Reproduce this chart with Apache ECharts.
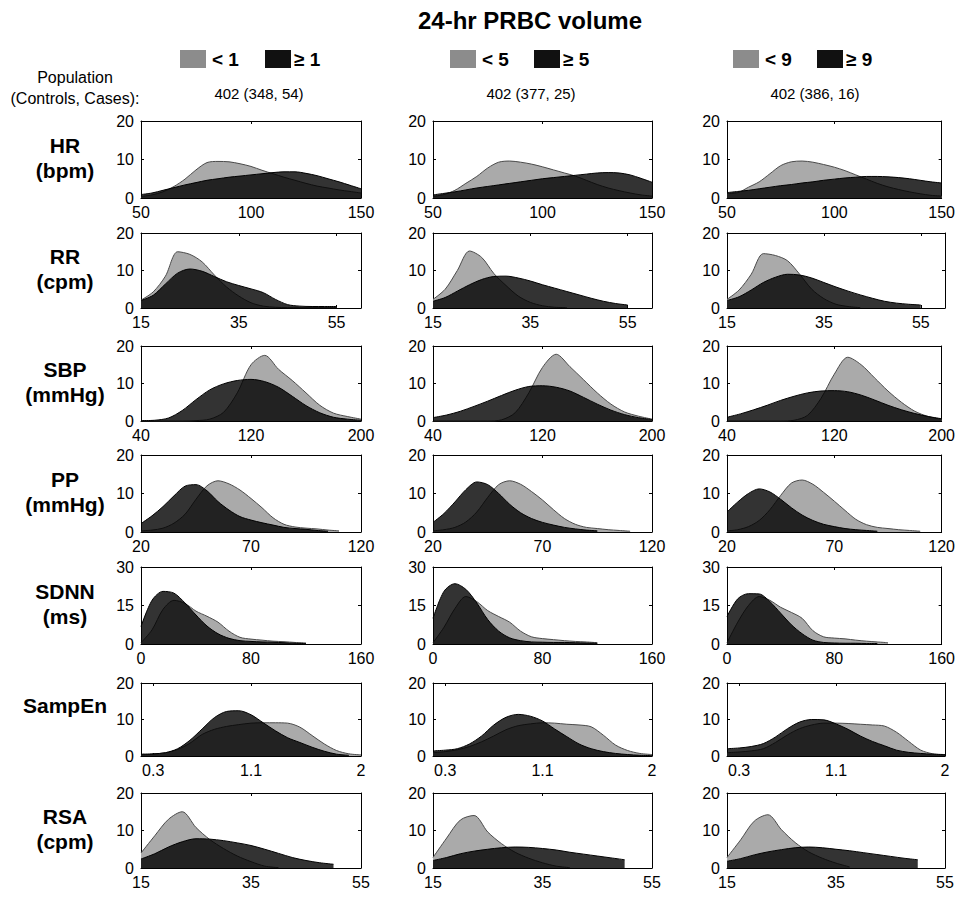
<!DOCTYPE html>
<html><head><meta charset="utf-8">
<script src="https://cdn.jsdelivr.net/npm/echarts@6/dist/echarts.min.js"></script>
<style>html,body{margin:0;padding:0;background:#fff}#c{width:958px;height:898px}</style>
</head><body><div id="c"></div>
<script>
// ---------- labels ----------
const chartTitle = '24-hr PRBC volume';
const thresholds = ['1', '5', '9'];
const populations = ['402 (348, 54)', '402 (377, 25)', '402 (386, 16)'];
const rowNames = [['HR', '(bpm)'], ['RR', '(cpm)'], ['SBP', '(mmHg)'], ['PP', '(mmHg)'], ['SDNN', '(ms)'], ['SampEn'], ['RSA', '(cpm)']];
const xMins = [50, 15, 40, 20, 0, 0.2, 15];
const xMaxs = [150, 60, 200, 120, 160, 2, 55];
const xTickLabels = [[50, 100, 150], [15, 35, 55], [40, 120, 200], [20, 70, 120], [0, 80, 160], [0.3, 1.1, 2], [15, 35, 55]];
const yMaxs = [20, 20, 20, 20, 30, 20, 20];
const yTickLabels = [[0, 10, 20], [0, 10, 20], [0, 10, 20], [0, 10, 20], [0, 15, 30], [0, 10, 20], [0, 10, 20]];

// ---------- data (density, %) ----------
const hrX = [50,55,60,65,70,75,80,85,90,95,100,105,110,115,120,125,130,135,140,145,150];
const hrLow1  = [0.4,0.8,1.6,3.0,4.9,7.3,9.2,9.5,9.4,8.9,8.2,7.2,6.3,5.4,4.6,3.8,3.1,2.6,2.1,1.7,1.3];
const hrHigh1 = [0.9,1.3,2.0,2.7,3.4,4.0,4.6,5.0,5.4,5.7,6.0,6.3,6.6,6.8,6.8,6.4,5.8,5.0,4.2,3.3,2.4];
const hrLow2  = [0.4,0.9,2.0,3.8,5.6,7.8,9.3,9.6,9.3,8.8,8.1,7.3,6.5,5.7,4.6,3.5,2.6,1.9,1.3,0.8,0.5];
const hrHigh2 = [0.8,1.2,1.6,2.1,2.6,3.0,3.4,3.8,4.2,4.6,5.0,5.3,5.6,5.9,6.2,6.5,6.6,6.5,6.0,5.1,4.1];
const hrLow3  = [1.2,1.4,2.8,4.2,6.3,8.4,9.4,9.6,9.3,8.7,8.0,7.1,6.0,4.9,3.8,2.9,2.2,1.6,1.1,0.7,0.5];
const hrHigh3 = [1.4,1.7,2.0,2.4,2.8,3.2,3.5,3.9,4.2,4.6,4.9,5.2,5.4,5.6,5.6,5.5,5.3,5.0,4.6,4.2,3.9];

const rrX = [15,17.5,20,22.5,25,27.5,30,32.5,35,37.5,40,42.5,45,47.5,50,52.5,55,57.5,60];
const rrLow1  = [2.1,4.3,8.5,15.0,14.3,12.3,8.8,5.6,3.2,1.4,0.5,0.2,0.1,0.1,0.1,0.1,0.1,null,null];
const rrHigh1 = [2.0,3.4,6.4,9.3,10.4,9.8,8.4,7.0,6.0,5.1,4.1,2.3,0.9,0.5,0.4,0.4,0.4,null,null];
const rrLow2  = [2.3,5.0,10.0,15.2,13.5,9.2,6.0,3.2,1.5,0.6,0.2,0.1,null,null,null,null,null,null,null];
const rrHigh2 = [1.8,2.8,4.5,6.2,7.6,8.4,8.5,8.0,7.2,6.2,5.3,4.4,3.5,2.6,1.8,1.2,0.8,null,null];
const rrLow3  = [2.3,4.8,9.0,14.5,14.0,12.6,9.0,5.0,2.5,1.0,0.4,0.1,null,null,null,null,null,null,null];
const rrHigh3 = [2.0,3.0,4.8,6.8,8.2,9.0,8.8,8.0,6.8,5.6,4.5,3.5,2.6,1.8,1.3,1.0,0.8,null,null];

const sbpX = [40,50,60,70,80,90,100,110,120,130,140,150,160,170,180,190,200];
const sbpLow1  = [0,0,0,0,0.1,0.5,2.3,7.5,15.0,17.5,13.8,10.8,7.5,4.2,2.1,1.2,0.5];
const sbpHigh1 = [0.1,0.2,0.8,2.8,5.7,8.3,9.9,10.8,11.1,10.5,9.0,6.6,4.1,2.2,1.0,0.5,0.2];
const sbpLow2  = [0,0,0,0,0,0.3,2.2,7.5,14.3,17.8,14.5,11.0,7.5,4.5,2.4,1.3,0.5];
const sbpHigh2 = [0.9,1.6,2.6,3.9,5.3,6.8,8.2,9.2,9.4,9.0,8.0,6.3,4.5,2.9,1.7,0.9,0.4];
const sbpLow3  = [0,0,0,0,0,0.2,1.5,6.0,12.5,17.0,15.0,11.5,8.0,5.0,2.6,1.2,0.5];
const sbpHigh3 = [1.0,1.9,3.0,4.2,5.5,6.6,7.5,8.0,8.1,7.8,6.9,5.6,4.2,3.0,2.0,1.2,0.6];

const ppX = [20,25,30,35,40,45,50,55,60,65,70,75,80,85,90,95,100,105,110,115,120];
const ppLow1  = [0.3,0.5,1.0,2.3,4.6,8.5,12.0,13.3,12.5,10.9,8.7,6.3,3.7,2.0,1.3,1.0,0.8,0.5,0.3,null,null];
const ppHigh1 = [2.2,4.2,6.6,9.4,11.9,12.3,10.7,7.9,5.7,4.0,3.1,2.4,1.8,1.2,0.9,0.7,0.4,0.2,null,null,null];
const ppLow2  = [0.3,0.6,1.2,2.6,5.2,9.0,12.3,13.3,12.4,10.5,8.3,5.8,3.5,2.0,1.2,0.9,0.6,0.4,0.2,null,null];
const ppHigh2 = [2.5,4.8,7.8,11.0,13.0,12.3,10.0,7.2,5.0,3.5,2.5,1.8,1.2,0.8,0.5,0.3,null,null,null,null,null];
const ppLow3  = [0.3,0.6,1.4,3.0,5.8,9.5,12.7,13.5,12.4,10.3,8.0,5.6,3.3,1.9,1.2,0.9,0.6,0.4,0.2,null,null];
const ppHigh3 = [5.2,7.8,10.0,11.2,10.4,8.5,6.3,4.4,3.0,2.0,1.4,0.9,0.6,0.4,0.2,null,null,null,null,null,null];

const sdnnX = [0,8,16,24,32,40,48,56,64,72,80,88,96,104,112,120,128,136,144,152,160];
const sdnnLow1  = [0.5,5.5,13.5,17.0,15.8,12.8,10.8,8.5,5.0,2.6,1.9,1.5,1.1,0.9,0.6,0.4,null,null,null,null,null];
const sdnnHigh1 = [6.8,17.0,20.5,19.8,16.0,11.3,7.0,4.0,2.2,1.3,1.0,0.8,0.7,0.5,0.3,0.2,null,null,null,null,null];
const sdnnLow2  = [0.5,6.5,13.8,18.5,16.5,13.0,10.7,8.5,5.0,2.8,2.1,1.7,1.3,1.0,0.8,0.5,null,null,null,null,null];
const sdnnHigh2 = [10.0,20.5,23.5,21.3,16.0,9.5,5.0,2.4,1.3,0.8,0.7,0.6,0.6,0.5,0.4,0.3,null,null,null,null,null];
const sdnnLow3  = [0.5,8.5,15.0,18.5,17.0,14.3,12.3,10.0,5.2,2.8,2.3,2.0,1.5,1.1,0.8,0.5,null,null,null,null,null];
const sdnnHigh3 = [10.7,17.6,19.6,19.5,16.5,12.0,7.5,4.0,1.5,0.6,0.4,0.3,0.3,0.2,0.2,null,null,null,null,null,null];

const seX = [0.2,0.3,0.4,0.5,0.6,0.7,0.8,0.9,1.0,1.1,1.2,1.3,1.4,1.5,1.6,1.7,1.8,1.9,2.0];
const seLow1  = [0.3,0.5,0.9,1.8,3.5,5.9,7.3,8.1,8.6,9.0,9.1,9.1,9.0,7.9,5.6,3.3,1.5,0.6,0.3];
const seHigh1 = [0.5,0.6,0.9,2.0,4.3,7.4,10.5,12.2,12.4,11.3,9.1,6.9,5.0,3.7,2.4,1.3,0.5,0.2,null];
const seLow2  = [0.9,1.2,1.7,2.6,3.9,5.5,7.2,8.3,8.8,9.1,9.0,8.7,8.5,8.0,5.7,3.0,1.5,0.7,0.4];
const seHigh2 = [1.4,1.6,2.0,3.3,5.5,8.5,10.6,11.4,10.9,9.6,7.4,5.3,3.3,2.0,1.2,0.7,0.4,0.2,0.1];
const seLow3  = [0.9,1.1,1.4,2.0,3.7,5.8,7.5,8.5,9.0,9.0,8.9,8.7,8.5,8.2,6.5,4.0,1.6,0.6,0.3];
const seHigh3 = [2.0,2.2,2.6,3.4,5.2,7.5,9.3,10.0,9.9,8.8,7.3,5.5,4.0,2.8,1.6,1.0,0.7,0.5,0.4];

const rsaX = [15,17.5,20,22.5,25,27.5,30,32.5,35,37.5,40,42.5,45,47.5,50,52.5,55];
const rsaLow1  = [4.0,8.6,13.0,15.0,10.8,7.6,5.2,3.2,1.7,0.5,0.1,null,null,null,null,null,null];
const rsaHigh1 = [2.4,3.8,5.6,7.0,7.8,7.7,7.3,6.7,6.0,5.0,3.9,2.8,2.0,1.4,1.0,null,null];
const rsaLow2  = [2.8,8.0,12.8,14.0,9.6,6.5,4.2,2.6,1.4,0.5,0.1,null,null,null,null,null,null];
const rsaHigh2 = [2.0,2.8,3.8,4.5,5.0,5.4,5.6,5.5,5.2,4.8,4.2,3.7,3.2,2.7,2.2,null,null];
const rsaLow3  = [2.8,7.5,12.5,14.2,10.2,6.8,4.3,2.6,1.3,0.3,null,null,null,null,null,null,null];
const rsaHigh3 = [1.8,2.5,3.5,4.3,4.9,5.4,5.6,5.4,5.0,4.6,4.1,3.6,3.1,2.6,2.2,null,null];

const rowX = [hrX, rrX, sbpX, ppX, sdnnX, seX, rsaX];
const lowSets = [[hrLow1,hrLow2,hrLow3],[rrLow1,rrLow2,rrLow3],[sbpLow1,sbpLow2,sbpLow3],[ppLow1,ppLow2,ppLow3],[sdnnLow1,sdnnLow2,sdnnLow3],[seLow1,seLow2,seLow3],[rsaLow1,rsaLow2,rsaLow3]];
const highSets = [[hrHigh1,hrHigh2,hrHigh3],[rrHigh1,rrHigh2,rrHigh3],[sbpHigh1,sbpHigh2,sbpHigh3],[ppHigh1,ppHigh2,ppHigh3],[sdnnHigh1,sdnnHigh2,sdnnHigh3],[seHigh1,seHigh2,seHigh3],[rsaHigh1,rsaHigh2,rsaHigh3]];

// ---------- layout ----------
const colLeft = [141, 433, 727];
const colWidth = [220, 219, 218];
const rowTop = [121, 233, 346, 455, 567, 683, 793];
const rowHeight = [77, 75, 75, 77, 77, 73, 75];

function hasFont(name) {
  const ctx = document.createElement('canvas').getContext('2d');
  ctx.font = '40px monospace';
  const a = ctx.measureText('1502038').width;
  ctx.font = "40px '" + name + "', monospace";
  const b = ctx.measureText('1502038').width;
  return Math.abs(a - b) > 0.5;
}
const narrow = hasFont('Liberation Sans Narrow');
const tickFont = narrow ? "'Liberation Sans Narrow', 'Liberation Sans', Arial, sans-serif" : "'Liberation Sans', Arial, sans-serif";
const tickSize = narrow ? 18 : 16;
const sans = "'Liberation Sans', Arial, sans-serif";

const grids = [], xAxes = [], yAxes = [], series = [];
for (let r = 0; r < 7; r++) {
  for (let c = 0; c < 3; c++) {
    const g = r * 3 + c;
    grids.push({ left: colLeft[c], top: rowTop[r], width: colWidth[c], height: rowHeight[r], show: false });
    const line = { show: true, onZero: false, lineStyle: { color: '#000', width: 1 } };
    xAxes.push({
      type: 'value', gridIndex: g, min: xMins[r], max: xMaxs[r], position: 'bottom',
      axisLine: line,
      axisTick: { show: true, inside: true, length: 3, customValues: xTickLabels[r], lineStyle: { color: '#000' } },
      axisLabel: { show: true, customValues: xTickLabels[r], color: '#000', fontFamily: tickFont, fontSize: tickSize, margin: 6 },
      splitLine: { show: false }
    });
    xAxes.push({
      type: 'value', gridIndex: g, min: xMins[r], max: xMaxs[r], position: 'top',
      axisLine: line,
      axisTick: { show: true, inside: true, length: 3, customValues: xTickLabels[r], lineStyle: { color: '#000' } },
      axisLabel: { show: false }, splitLine: { show: false }
    });
    yAxes.push({
      type: 'value', gridIndex: g, min: 0, max: yMaxs[r], position: 'left',
      axisLine: line,
      axisTick: { show: true, inside: true, length: 3, customValues: yTickLabels[r], lineStyle: { color: '#000' } },
      axisLabel: { show: true, customValues: yTickLabels[r], color: '#000', fontFamily: tickFont, fontSize: tickSize, margin: 7, padding: [7, 0, 0, 0] },
      splitLine: { show: false }
    });
    yAxes.push({
      type: 'value', gridIndex: g, min: 0, max: yMaxs[r], position: 'right',
      axisLine: line,
      axisTick: { show: true, inside: true, length: 3, customValues: yTickLabels[r], lineStyle: { color: '#000' } },
      axisLabel: { show: false }, splitLine: { show: false }
    });
    const xs = rowX[r];
    const low = lowSets[r][c].map((v, i) => [xs[i], v]);
    const high = highSets[r][c].map((v, i) => [xs[i], v]);
    series.push({
      type: 'line', xAxisIndex: 2 * g, yAxisIndex: 2 * g, data: low, smooth: 0.3, symbol: 'none',
      lineStyle: { color: '#4a4a4a', width: 1 }, areaStyle: { color: '#aaaaaa', opacity: 1 }, z: 2, silent: true
    });
    series.push({
      type: 'line', xAxisIndex: 2 * g, yAxisIndex: 2 * g, data: high, smooth: 0.3, symbol: 'none',
      lineStyle: { color: '#000', width: 1 }, areaStyle: { color: '#000', opacity: 0.8 }, z: 3, silent: true
    });
  }
}

// ---------- texts and legend ----------
const graphics = [];
function txt(text, x, y, font, align) {
  graphics.push({ type: 'text', silent: true, style: { text: text, x: x, y: y, font: font, fill: '#000', textAlign: align || 'center', textVerticalAlign: 'middle' } });
}
txt(chartTitle, 530, 20, 'bold 24px ' + sans);
const swGray = [180, 450, 733], swBlack = [265, 534, 817];
for (let c = 0; c < 3; c++) {
  graphics.push({ type: 'rect', silent: true, shape: { x: swGray[c], y: 50, width: 26, height: 18 }, style: { fill: '#8c8c8c' } });
  graphics.push({ type: 'rect', silent: true, shape: { x: swBlack[c], y: 50, width: 26, height: 18 }, style: { fill: '#111111' } });
  txt('< ' + thresholds[c], swGray[c] + 32, 59, 'bold 19px ' + sans, 'left');
  txt('\u2265 ' + thresholds[c], swBlack[c] + 29, 59, 'bold 19px ' + sans, 'left');
}
txt('Population', 75, 77, '16px ' + sans);
txt('(Controls, Cases):', 75, 98, '16px ' + sans);
const popX = [259, 531, 815];
for (let c = 0; c < 3; c++) txt(populations[c], popX[c], 93, '15px ' + sans);
for (let r = 0; r < 7; r++) {
  const mid = rowTop[r] + rowHeight[r] / 2;
  txt(rowNames[r][0], 65, mid - 14, 'bold 21px ' + sans);
  if (rowNames[r][1]) txt(rowNames[r][1], 65, mid + 11, 'bold 21px ' + sans);
}

const chart = echarts.init(document.getElementById('c'), null, { renderer: 'svg' });
chart.setOption({
  animation: false,
  backgroundColor: '#fff',
  grid: grids, xAxis: xAxes, yAxis: yAxes, series: series, graphic: graphics
});
</script></body></html>
